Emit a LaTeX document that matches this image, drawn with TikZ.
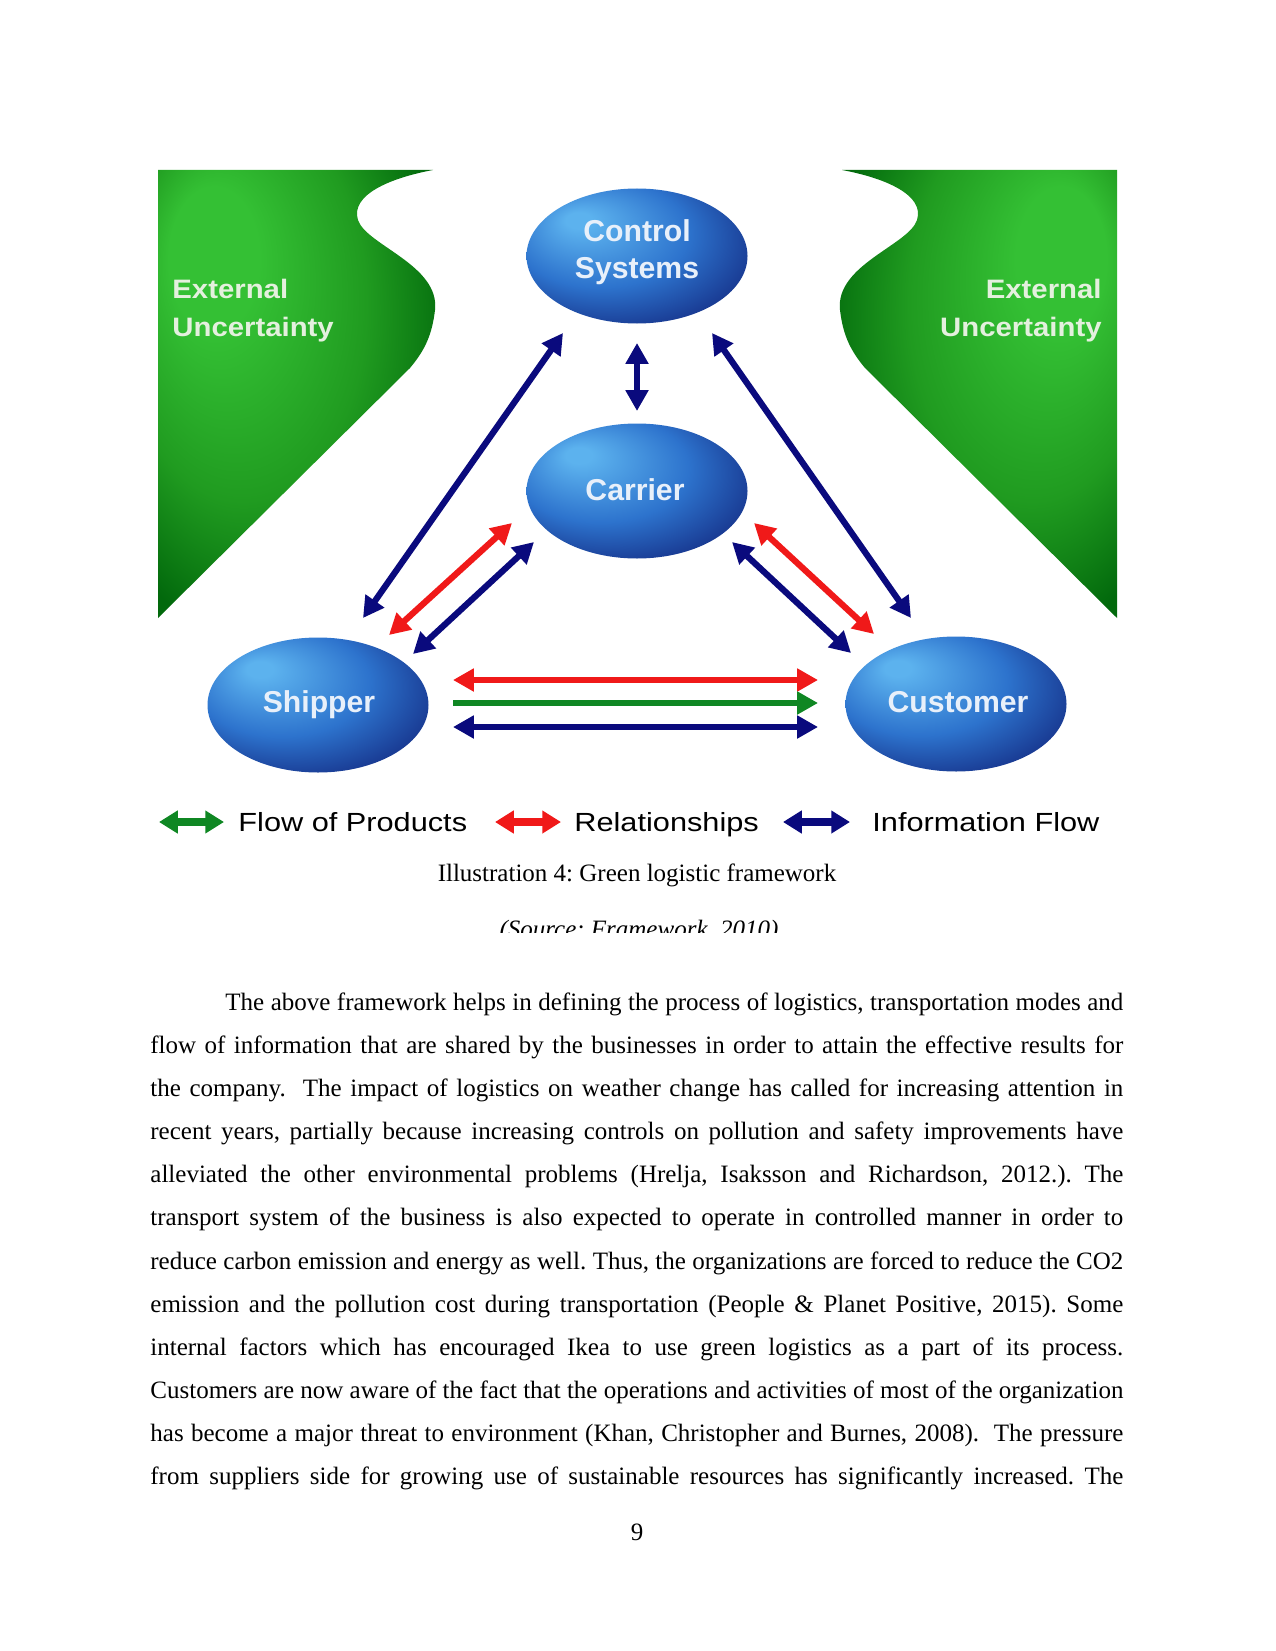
\documentclass[tikz,border=0pt]{standalone}
\usepackage{fontspec}
\setmainfont{Liberation Serif}
\newfontfamily\arialf{Liberation Sans}
\usetikzlibrary{arrows.meta,shapes.geometric}
\definecolor{gl}{RGB}{52,192,52}
\definecolor{gm}{RGB}{32,155,32}
\definecolor{gd}{RGB}{2,105,12}
\definecolor{bl}{RGB}{92,178,238}
\definecolor{bm}{RGB}{45,115,205}
\definecolor{bd}{RGB}{22,50,138}
\definecolor{navy}{RGB}{10,10,125}
\definecolor{rred}{RGB}{240,25,25}
\definecolor{ggreen}{RGB}{15,135,35}
\definecolor{paletxt}{RGB}{228,240,222}
\definecolor{elltxt}{RGB}{232,240,250}
\pgfdeclareradialshading{greenL}{\pgfpoint{-18bp}{18bp}}{color(0bp)=(gl); color(8bp)=(gl); color(22bp)=(gm); color(34bp)=(gd); color(50bp)=(gd)}
\pgfdeclareradialshading{greenR}{\pgfpoint{18bp}{18bp}}{color(0bp)=(gl); color(8bp)=(gl); color(22bp)=(gm); color(34bp)=(gd); color(50bp)=(gd)}
\pgfdeclareradialshading{blueball}{\pgfpoint{-14bp}{14bp}}{color(0bp)=(bl); color(3bp)=(bl); color(20bp)=(bm); color(34bp)=(bd); color(50bp)=(bd)}
\tikzset{
  ell/.style={ellipse, shade, shading=blueball, minimum width={221*0.48pt}, minimum height={135*0.48pt}, inner sep=0pt},
  elltext/.style={anchor=base, inner sep=0pt, text=elltxt, font=\arialf\bfseries\fontsize{14.5}{17}\selectfont},
  exttext/.style={inner sep=0pt, text=paletxt, font=\arialf\bfseries\fontsize{12.8}{15}\selectfont},
  dbl/.style={line width=3pt, arrows={Triangle[length=10pt,width=10.5pt]-Triangle[length=10pt,width=10.5pt]}},
  sgl/.style={line width=3pt, arrows={-Triangle[length=10pt,width=10.5pt]}},
  legarrow/.style={line width=4.3pt, arrows={Triangle[length=9pt,width=10.5pt]-Triangle[length=9pt,width=10.5pt]}},
  legtext/.style={anchor=base west, inner sep=0pt, font=\arialf\fontsize{12.6}{15}\selectfont},
  bodytext/.style={anchor=base west, inner sep=0pt, font=\fontsize{12}{14}\selectfont},
}
\newcommand{\legscale}[1]{\scalebox{1.17}[1]{#1}}
\newcommand{\extscale}[1]{\scalebox{1.1}[1]{#1}}
\frenchspacing
\begin{document}
\begin{tikzpicture}[x=0.48pt, y=-0.48pt]
\useasboundingbox (0,0) rectangle (1275,1651);
\fill[white] (0,0) rectangle (1275,1651);

% green regions
\shade[shading=greenL] (158,170) -- (433,170)
  .. controls (390,178) and (350,195) .. (358,220)
  .. controls (366,245) and (440,265) .. (435,310)
  .. controls (432,335) and (425,350) .. (410,368)
  -- (158,618) -- cycle;
\shade[shading=greenR] (1117,170) -- (842,170)
  .. controls (885,178) and (925,195) .. (917,220)
  .. controls (909,245) and (835,265) .. (840,310)
  .. controls (843,335) and (850,350) .. (865,368)
  -- (1117,618) -- cycle;

\node[exttext, anchor=base west] (extL1) at (172,299) {\extscale{External}};
\node[exttext, anchor=base west] (extL2) at (172,336) {\extscale{Uncertainty}};
\node[exttext, anchor=base east] (extR1) at (1102,299) {\extscale{External}};
\node[exttext, anchor=base east] (extR2) at (1102,336) {\extscale{Uncertainty}};

% ellipses
\node[ell] (ctrl) at (637,256) {};
\node[ell] (carr) at (637,491) {};
\node[ell] (ship) at (318,705) {};
\node[ell] (cust) at (956,704) {};
\node[elltext] (ctrlt1) at (637,242) {Control};
\node[elltext] (ctrlt2) at (637,278) {Systems};
\node[elltext] (carrt) at (635,500) {Carrier};
\node[elltext] (shipt) at (319,712) {Shipper};
\node[elltext] (custt) at (958,712) {Customer};

% connector end points
\coordinate (sA) at (363,618);  \coordinate (cA) at (563,333);
\coordinate (cB) at (712,333);  \coordinate (uB) at (911,618);
\coordinate (cV) at (637,343);  \coordinate (kV) at (637,411);
\coordinate (sR) at (389,635);  \coordinate (kR) at (512,523);
\coordinate (sN) at (413,654);  \coordinate (kN) at (534,542);
\coordinate (kN2) at (732,542); \coordinate (uN) at (851,653);
\coordinate (kR2) at (754,523); \coordinate (uR) at (874,634);
\coordinate (hR1) at (453,680); \coordinate (hR2) at (818,680);
\coordinate (hG1) at (453,703); \coordinate (hG2) at (818,703);
\coordinate (hN1) at (453,727); \coordinate (hN2) at (818,727);

\draw[dbl, navy] (sA) -- (cA);
\draw[dbl, navy] (cB) -- (uB);
\draw[dbl, navy] (cV) -- (kV);
\draw[dbl, rred] (sR) -- (kR);
\draw[dbl, navy] (sN) -- (kN);
\draw[dbl, navy] (kN2) -- (uN);
\draw[dbl, rred] (kR2) -- (uR);
\draw[dbl, rred] (hR1) -- (hR2);
\draw[sgl, ggreen] (hG1) -- (hG2);
\draw[dbl, navy] (hN1) -- (hN2);

% legend
\coordinate (lg1) at (159,822); \coordinate (lg2) at (224,822);
\coordinate (lr1) at (495,822); \coordinate (lr2) at (561,822);
\coordinate (ln1) at (783,822); \coordinate (ln2) at (850,822);
\draw[legarrow, ggreen] (lg1) -- (lg2);
\draw[legarrow, rred] (lr1) -- (lr2);
\draw[legarrow, navy] (ln1) -- (ln2);
\node[legtext] (legG) at (238,831) {\legscale{Flow of Products}};
\node[legtext] (legR) at (574,831) {\legscale{Relationships}};
\node[legtext] (legN) at (872,831) {\legscale{Information Flow}};

% caption
\node[anchor=base, inner sep=0pt, font=\fontsize{12}{14}\selectfont] (cap) at (637,881) {Illustration 4: Green logistic framework};
\begin{scope}
\clip (0,0) rectangle (1275,932);
\node[anchor=base, inner sep=0pt, font=\itshape\fontsize{12}{14}\selectfont] (src) at (639,937) {(Source: Framework, 2010)};
\end{scope}

% body text
\node[bodytext] (l1) at (225,1010) {\makebox[431pt][s]{The above framework helps in defining the process of logistics, transportation modes and}};
\node[bodytext] (l2) at (150,1053.2) {\makebox[467pt][s]{flow of information that are shared by the businesses in order to attain the effective results for}};
\node[bodytext] (l3) at (150,1096.3) {\makebox[467pt][s]{the company.\ \ The impact of logistics on weather change has called for increasing attention in}};
\node[bodytext] (l4) at (150,1139.5) {\makebox[467pt][s]{recent years, partially because increasing controls on pollution and safety improvements have}};
\node[bodytext] (l5) at (150,1182.7) {\makebox[467pt][s]{alleviated the other environmental problems (Hrelja, Isaksson and Richardson, 2012.). The}};
\node[bodytext] (l6) at (150,1225.9) {\makebox[467pt][s]{transport system of the business is also expected to operate in controlled manner in order to}};
\node[bodytext] (l7) at (150,1269.0) {\makebox[467pt][s]{reduce carbon emission and energy as well. Thus, the organizations are forced to reduce the CO2}};
\node[bodytext] (l8) at (150,1312.2) {\makebox[467pt][s]{emission and the pollution cost during transportation (People \& Planet Positive, 2015). Some}};
\node[bodytext] (l9) at (150,1355.4) {\makebox[467pt][s]{internal factors which has encouraged Ikea to use green logistics as a part of its process.}};
\node[bodytext] (l10) at (150,1398.5) {\makebox[467pt][s]{Customers are now aware of the fact that the operations and activities of most of the organization}};
\node[bodytext] (l11) at (150,1441.7) {\makebox[467pt][s]{has become a major threat to environment (Khan, Christopher and Burnes, 2008).\ \ The pressure}};
\node[bodytext] (l12) at (150,1484.9) {\makebox[467pt][s]{from suppliers side for growing use of sustainable resources has significantly increased. The}};

\node[anchor=base, inner sep=0pt, font=\fontsize{12}{14}\selectfont] (pnum) at (637,1540) {9};
\end{tikzpicture}
\end{document}
